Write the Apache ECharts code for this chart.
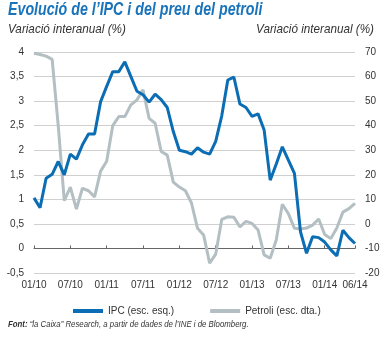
<!DOCTYPE html>
<html><head><meta charset="utf-8">
<script src="https://cdn.jsdelivr.net/npm/echarts@6/dist/echarts.min.js"></script>
<style>html,body{margin:0;padding:0;background:#fff}#c{width:385px;height:338px}</style>
</head><body><div id="c"></div>
<script>
const months = ['01/10','02/10','03/10','04/10','05/10','06/10','07/10','08/10','09/10','10/10','11/10','12/10',
'01/11','02/11','03/11','04/11','05/11','06/11','07/11','08/11','09/11','10/11','11/11','12/11',
'01/12','02/12','03/12','04/12','05/12','06/12','07/12','08/12','09/12','10/12','11/12','12/12',
'01/13','02/13','03/13','04/13','05/13','06/13','07/13','08/13','09/13','10/13','11/13','12/13',
'01/14','02/14','03/14','04/14','05/14','06/14'];
const labelIdx = [0,6,12,18,24,30,36,42,48,53];
const ipc = [1.03,0.83,1.43,1.51,1.77,1.5,1.92,1.82,2.11,2.33,2.33,2.99,
3.3,3.6,3.6,3.8,3.5,3.2,3.13,2.98,3.14,3.03,2.87,2.38,
2.0,1.97,1.92,2.05,1.96,1.92,2.18,2.7,3.43,3.49,2.94,2.87,
2.69,2.74,2.41,1.39,1.72,2.07,1.8,1.53,0.34,-0.1,0.24,0.22,
0.13,-0.03,-0.15,0.37,0.22,0.1];
const petroli = [69.5,69,68.3,67,40,9.5,15,6,14.5,13.5,11,21.5,
25.5,40,43.7,43.7,48.5,50.5,54.6,43,41,29.5,28,17,
15,13.5,8.5,-1.8,-4.5,-16,-12.3,1.8,2.9,2.7,-1.2,1,
0.2,-2.5,-12.6,-14,-6.5,8,4.2,-1.8,-2.1,-1.7,-0.5,2,
-4.3,-6,-1.7,4.8,6.2,8.4];
const leftTicks = {min:-0.5, max:4, interval:0.5};
const rightTicks = {min:-20, max:70, interval:10};

const BLUE = '#0b6db4', GRAY = '#b3bfc2', TXT = '#333';
const F = 'Liberation Sans, sans-serif';
const chart = echarts.init(document.getElementById('c'), null, {renderer:'canvas'});
chart.setOption({
  animation:false,
  textStyle:{fontFamily:F},
  graphic:[
    {type:'text', x:8, y:1, scaleX:0.79,
     style:{text:'Evolució de l’IPC i del preu del petroli', font:'italic bold 18px '+F, fill:'#1a74bb', textVerticalAlign:'top'}},
    {type:'text', x:8, y:23, scaleX:0.9,
     style:{text:'Variació interanual (%)', font:'italic 13px '+F, fill:TXT, textVerticalAlign:'top'}},
    {type:'text', x:374, y:23, scaleX:0.9,
     style:{text:'Variació interanual (%)', font:'italic 13px '+F, fill:TXT, textAlign:'right', textVerticalAlign:'top'}},
    {type:'text', x:8, y:320, scaleX:0.87,
     style:{text:'{b|Font:} “la Caixa” Research, a partir de dades de l’INE i de Bloomberg.',
       font:'italic 9px '+F, fill:TXT, textVerticalAlign:'top',
       rich:{b:{font:'italic bold 9px '+F, fill:TXT}}}}
  ],
  legend:{
    top:301, left:68, itemWidth:30, itemHeight:4, itemGap:36, icon:'rect',
    textStyle:{fontFamily:F, fontSize:10, color:TXT},
    data:[{name:'IPC (esc. esq.)'},{name:'Petroli (esc. dta.)'}]
  },
  grid:{left:34, right:30, top:52, bottom:65, containLabel:false},
  xAxis:{
    type:'category', data:months, boundaryGap:false,
    axisLine:{onZero:true, lineStyle:{color:'#666', width:1}},
    axisTick:{inside:true, length:3, lineStyle:{color:'#666'}, interval:(i)=>labelIdx.includes(i)},
    axisLabel:{margin:7, fontSize:10, color:TXT, fontFamily:F, interval:(i)=>labelIdx.includes(i)},
    splitLine:{show:false}
  },
  yAxis:[
    {type:'value', min:leftTicks.min, max:leftTicks.max, interval:leftTicks.interval,
     axisLine:{show:false}, axisTick:{show:false},
     axisLabel:{margin:10, fontSize:10, color:TXT, fontFamily:F, formatter:(v)=>String(v).replace('.',',')},
     splitLine:{lineStyle:{color:'#d0d0d0', width:1}}},
    {type:'value', min:rightTicks.min, max:rightTicks.max, interval:rightTicks.interval,
     axisLine:{show:false}, axisTick:{show:false},
     axisLabel:{margin:10, fontSize:10, color:TXT, fontFamily:F},
     splitLine:{show:false}}
  ],
  series:[
    {name:'Petroli (esc. dta.)', type:'line', yAxisIndex:1, data:petroli, showSymbol:false,
     lineStyle:{color:GRAY, width:3}, itemStyle:{color:GRAY}, z:2},
    {name:'IPC (esc. esq.)', type:'line', yAxisIndex:0, data:ipc, showSymbol:false,
     lineStyle:{color:BLUE, width:3}, itemStyle:{color:BLUE}, z:3}
  ]
});
</script></body></html>
